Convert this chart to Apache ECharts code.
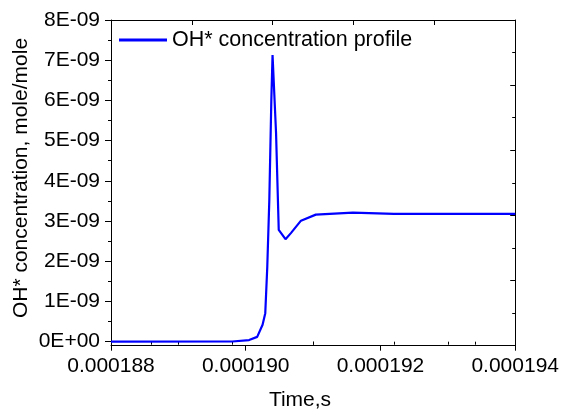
<!DOCTYPE html>
<html>
<head>
<meta charset="utf-8">
<script src="https://cdn.jsdelivr.net/npm/echarts@6/dist/echarts.min.js"></script>
<style>
html,body{margin:0;padding:0;background:#fff;}
#chart{width:562px;height:409px;}
</style>
</head>
<body>
<div id="chart"></div>
<script>
// Time (s)
var timeS = [0.000188, 0.0001898, 0.00019005, 0.00019017, 0.00019025, 0.00019029, 0.00019032,
  0.00019035, 0.00019038, 0.000190398, 0.00019045, 0.00019049, 0.00019059, 0.00019067,
  0.00019082, 0.00019104, 0.00019159, 0.0001922, 0.000194];
// OH* concentration (mole/mole)
var ohConc = [0, 0.005e-9, 0.04e-9, 0.12e-9, 0.42e-9, 0.71e-9, 1.87e-9,
  3.52e-9, 6.01e-9, 7.13e-9, 5.19e-9, 2.78e-9, 2.55e-9, 2.70e-9,
  3.01e-9, 3.16e-9, 3.21e-9, 3.18e-9, 3.18e-9];

var seriesName = 'OH* concentration profile';
var xTitle = 'Time,s';
var yTitle = 'OH* concentration, mole/mole';

var xMin = 0.000188, xMax = 0.000194;
var yMin = -1e-10, yMax = 8e-9;
var xMajorTicks = [0.000188, 0.000190, 0.000192, 0.000194];
var xMinorTicks = [0.000189, 0.000191, 0.000193];
var yMajorTicks = [0, 1e-9, 2e-9, 3e-9, 4e-9, 5e-9, 6e-9, 7e-9, 8e-9];
var yMinorTicks = [0.5e-9, 1.5e-9, 2.5e-9, 3.5e-9, 4.5e-9, 5.5e-9, 6.5e-9, 7.5e-9];
var xTickLabels = ['0.000188', '0.000190', '0.000192', '0.000194'];
var yTickLabels = ['0E+00', '1E-09', '2E-09', '3E-09', '4E-09', '5E-09', '6E-09', '7E-09', '8E-09'];

// top/right mirrored axes: 10 equal divisions
var topMajor = [], topMinor = [], rightMajor = [], rightMinor = [];
for (var k = 1; k < 10; k++) {
  var tv = xMin + (xMax - xMin) * k / 10;
  var rv = yMin + (yMax - yMin) * k / 10;
  if (k % 2 === 0) { topMajor.push(tv); rightMajor.push(rv); }
  else { topMinor.push(tv); rightMinor.push(rv); }
}

var FONT = "'Liberation Sans', Arial, sans-serif";
var data = timeS.map(function (t, i) { return [t, ohConc[i]]; });

function nearestLabel(v, ticks, labels) {
  var best = 0, d = Infinity;
  for (var i = 0; i < ticks.length; i++) {
    var dd = Math.abs(ticks[i] - v);
    if (dd < d) { d = dd; best = i; }
  }
  return labels[best];
}

function hiddenAxis(base) {
  return Object.assign({
    type: 'value', min: null, max: null,
    axisLine: { show: false }, splitLine: { show: false },
    axisLabel: { show: false }
  }, base);
}

var lineCol = '#000';
var chart = echarts.init(document.getElementById('chart'), null, { renderer: 'canvas' });
chart.setOption({
  animation: false,
  backgroundColor: '#fff',
  grid: { left: 111, top: 20, width: 405, height: 325.7, containLabel: false },
  legend: {
    left: 114, top: 24,
    itemWidth: 48, itemHeight: 3, itemGap: 6,
    data: [{ name: seriesName, icon: 'rect' }],
    textStyle: { fontFamily: FONT, fontSize: 21.5, color: '#000' }
  },
  xAxis: [
    {
      type: 'value', position: 'bottom', min: xMin, max: xMax,
      axisLine: { show: true, onZero: false, lineStyle: { color: lineCol, width: 1 } },
      axisTick: { show: true, inside: false, length: 5, customValues: xMajorTicks, lineStyle: { color: lineCol } },
      axisLabel: {
        show: true, customValues: xMajorTicks, margin: 10,
        fontFamily: FONT, fontSize: 21, color: '#000',
        formatter: function (v) { return nearestLabel(v, xMajorTicks, xTickLabels); }
      },
      splitLine: { show: false }
    },
    hiddenAxis({
      position: 'bottom', min: xMin, max: xMax,
      axisTick: { show: true, inside: false, length: 3, customValues: xMinorTicks, lineStyle: { color: lineCol } },
      axisLabel: { show: false, customValues: xMinorTicks }
    }),
    hiddenAxis({
      position: 'top', min: xMin, max: xMax,
      axisLine: { show: true, onZero: false, lineStyle: { color: lineCol, width: 1 } },
      axisTick: { show: true, inside: true, length: 5, customValues: topMajor, lineStyle: { color: lineCol } },
      axisLabel: { show: false, customValues: topMajor }
    }),
    hiddenAxis({
      position: 'top', min: xMin, max: xMax,
      axisTick: { show: true, inside: true, length: 3, customValues: topMinor, lineStyle: { color: lineCol } },
      axisLabel: { show: false, customValues: topMinor }
    })
  ],
  yAxis: [
    {
      type: 'value', position: 'left', min: yMin, max: yMax,
      axisLine: { show: true, onZero: false, lineStyle: { color: lineCol, width: 1 } },
      axisTick: { show: true, inside: false, length: 6, customValues: yMajorTicks, lineStyle: { color: lineCol } },
      axisLabel: {
        show: true, customValues: yMajorTicks, margin: 11,
        fontFamily: FONT, fontSize: 21, color: '#000',
        formatter: function (v) { return nearestLabel(v, yMajorTicks, yTickLabels); }
      },
      splitLine: { show: false }
    },
    hiddenAxis({
      position: 'left', min: yMin, max: yMax,
      axisTick: { show: true, inside: false, length: 3, customValues: yMinorTicks, lineStyle: { color: lineCol } },
      axisLabel: { show: false, customValues: yMinorTicks }
    }),
    hiddenAxis({
      position: 'right', min: yMin, max: yMax,
      axisLine: { show: true, onZero: false, lineStyle: { color: lineCol, width: 1 } },
      axisTick: { show: true, inside: true, length: 5, customValues: rightMajor, lineStyle: { color: lineCol } },
      axisLabel: { show: false, customValues: rightMajor }
    }),
    hiddenAxis({
      position: 'right', min: yMin, max: yMax,
      axisTick: { show: true, inside: true, length: 3, customValues: rightMinor, lineStyle: { color: lineCol } },
      axisLabel: { show: false, customValues: rightMinor }
    })
  ],
  graphic: [
    {
      type: 'text', x: 300, y: 400,
      style: { text: xTitle, fontFamily: FONT, fontSize: 21, fill: '#000', align: 'center', verticalAlign: 'middle' }
    },
    {
      type: 'text', x: 21, y: 178, rotation: Math.PI / 2,
      style: { text: yTitle, fontFamily: FONT, fontSize: 21, fill: '#000', align: 'center', verticalAlign: 'middle' }
    }
  ],
  series: [{
    name: seriesName, type: 'line', xAxisIndex: 0, yAxisIndex: 0,
    data: data, showSymbol: false, symbol: 'none', smooth: false,
    color: '#0000ff',
    lineStyle: { color: '#0000ff', width: 2.2 },
    itemStyle: { color: '#0000ff' }
  }]
});
</script>
</body>
</html>
